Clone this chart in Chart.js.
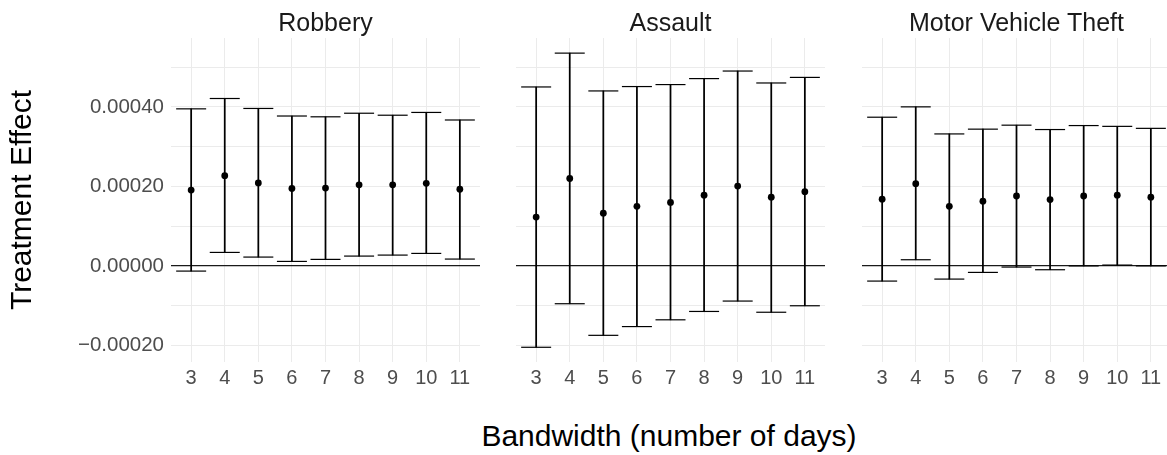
<!DOCTYPE html>
<html>
<head>
<meta charset="utf-8">
<script src="https://cdn.jsdelivr.net/npm/chart.js@4/dist/chart.umd.min.js"></script>
<style>
  html, body { margin: 0; padding: 0; background: #fff; overflow: hidden; }
  #wrap { position: relative; width: 1167px; height: 455px; overflow: hidden; }
  .panel { position: absolute; top: 0; height: 392px; }
  .strip {
    position: absolute; top: 7px; width: 309px; text-align: center;
    font: 25px 'Liberation Sans', Arial, sans-serif; line-height: 30px;
    color: #1a1a1a; white-space: nowrap;
  }
  #xtitle {
    position: absolute; left: 469px; width: 400px; top: 421px;
    text-align: center; font: 30px 'Liberation Sans', Arial, sans-serif;
    line-height: 30px; color: #000; white-space: nowrap;
  }
</style>
</head>
<body>
<div id="wrap">
  <div class="panel" style="left:0px;width:480px"><canvas id="robberyChart" width="480" height="392"></canvas></div>
  <div class="panel" style="left:516px;width:309px"><canvas id="assaultChart" width="309" height="392"></canvas></div>
  <div class="panel" style="left:862px;width:309px"><canvas id="mvtChart" width="309" height="392"></canvas></div>
  <div class="strip" style="left:171px">Robbery</div>
  <div class="strip" style="left:516px">Assault</div>
  <div class="strip" style="left:862px">Motor Vehicle Theft</div>
  <div id="xtitle">Bandwidth (number of days)</div>
</div>
<script>
// Bandwidths (days)
const bandwidths = [3, 4, 5, 6, 7, 8, 9, 10, 11];

// Robbery
const robberyEst  = [0.000191, 0.000227, 0.000209, 0.000195, 0.000196, 0.000204, 0.000204, 0.000208, 0.000193];
const robberyLow  = [-0.0000126, 0.0000343, 0.0000226, 0.0000117, 0.0000168, 0.0000251, 0.0000276, 0.0000318, 0.0000176];
const robberyHigh = [0.000395, 0.000421, 0.000396, 0.000377, 0.000375, 0.000384, 0.000379, 0.000386, 0.000367];

// Assault
const assaultEst  = [0.000123, 0.000220, 0.000133, 0.000150, 0.000160, 0.000178, 0.000201, 0.000173, 0.000187];
const assaultLow  = [-0.000204, -0.0000946, -0.000174, -0.000152, -0.000135, -0.000114, -0.0000879, -0.000116, -0.0000997];
const assaultHigh = [0.000450, 0.000535, 0.000440, 0.000451, 0.000456, 0.000471, 0.000490, 0.000460, 0.000474];

// Motor Vehicle Theft
const mvtEst  = [0.000168, 0.000207, 0.000150, 0.000163, 0.000176, 0.000167, 0.000176, 0.000178, 0.000173];
const mvtLow  = [-0.0000377, 0.0000159, -0.0000327, -0.0000159, -0.0000025, -0.0000092, 0.0000004, 0.0000025, 0.0000005];
const mvtHigh = [0.000374, 0.000400, 0.000332, 0.000344, 0.000354, 0.000343, 0.000353, 0.000351, 0.000346];

// Y axis grid and labels
const yGridValues  = [-0.0002, -0.0001, 0, 0.0001, 0.0002, 0.0003, 0.0004, 0.0005];
const yLabelValues = [-0.0002, 0, 0.0002, 0.0004];
const yMin = -0.000241;
const yMax = 0.000573;

const tickColor = '#4d4d4d';
const gridColor = '#ebebeb';
const fontFamily = "'Liberation Sans', Arial, sans-serif";

function isLabelled(v) {
    return yLabelValues.some(l => Math.abs(l - v) < 1e-9);
}

function formatY(v) {
    const s = Math.abs(v).toFixed(5);
    return v < -1e-12 ? '\u2212' + s : s;
}

function makePanel(canvasId, est, low, high, showYAxis) {
    const ctx = document.getElementById(canvasId).getContext('2d');
    const pts = (arr) => bandwidths.map((b, i) => ({ x: b, y: arr[i] }));
    const capStyle = {
        type: 'line',
        showLine: false,
        pointStyle: 'line',
        pointRadius: 15,
        pointHoverRadius: 15,
        pointBorderColor: '#000',
        pointBorderWidth: 1.2,
        borderColor: '#000'
    };
    return new Chart(ctx, {
        type: 'bar',
        data: {
            datasets: [
                {
                    type: 'bar',
                    data: bandwidths.map((b, i) => ({ x: b, y: [low[i], high[i]] })),
                    backgroundColor: '#000',
                    borderWidth: 0,
                    barThickness: 1.1
                },
                Object.assign({ data: pts(high) }, capStyle),
                Object.assign({ data: pts(low) }, capStyle),
                {
                    type: 'line',
                    showLine: false,
                    data: pts(est),
                    pointStyle: 'circle',
                    pointRadius: 3.4,
                    pointHoverRadius: 3.4,
                    pointBackgroundColor: '#000',
                    pointBorderWidth: 0,
                    borderColor: '#000'
                }
            ]
        },
        options: {
            responsive: false,
            animation: false,
            events: [],
            layout: { autoPadding: false, padding: { top: 38, left: 0, right: 0, bottom: 0 } },
            plugins: {
                legend: { display: false },
                tooltip: { enabled: false }
            },
            scales: {
                x: {
                    type: 'linear',
                    min: 2.4,
                    max: 11.6,
                    offset: false,
                    afterBuildTicks: (scale) => {
                        scale.ticks = bandwidths.map(v => ({ value: v }));
                    },
                    afterFit: (scale) => { scale.height = 30; },
                    border: { display: false },
                    grid: { color: gridColor, lineWidth: 1, drawTicks: false, offset: false },
                    ticks: {
                        color: tickColor,
                        padding: 4,
                        maxRotation: 0,
                        autoSkip: false,
                        font: { family: fontFamily, size: 20 },
                        callback: (v) => String(v)
                    }
                },
                y: {
                    type: 'linear',
                    min: yMin,
                    max: yMax,
                    afterBuildTicks: (scale) => {
                        scale.ticks = yGridValues.map(v => ({ value: v }));
                    },
                    afterFit: (scale) => { scale.width = showYAxis ? 171 : 0; },
                    border: { display: false },
                    grid: {
                        drawTicks: false,
                        color: (c) => Math.abs(c.tick.value) < 1e-12 ? '#1a1a1a' : gridColor,
                        lineWidth: (c) => Math.abs(c.tick.value) < 1e-12 ? 1.2 : 1
                    },
                    ticks: {
                        display: showYAxis,
                        color: tickColor,
                        padding: 7,
                        autoSkip: false,
                        font: { family: fontFamily, size: 20.5 },
                        callback: (v) => isLabelled(v) ? formatY(v) : ''
                    },
                    title: {
                        display: showYAxis,
                        text: 'Treatment Effect',
                        color: '#000',
                        font: { family: fontFamily, size: 30 },
                        padding: { top: 5, bottom: 0 }
                    }
                }
            }
        }
    });
}

makePanel('robberyChart', robberyEst, robberyLow, robberyHigh, true);
makePanel('assaultChart', assaultEst, assaultLow, assaultHigh, false);
makePanel('mvtChart', mvtEst, mvtLow, mvtHigh, false);
</script>
</body>
</html>
